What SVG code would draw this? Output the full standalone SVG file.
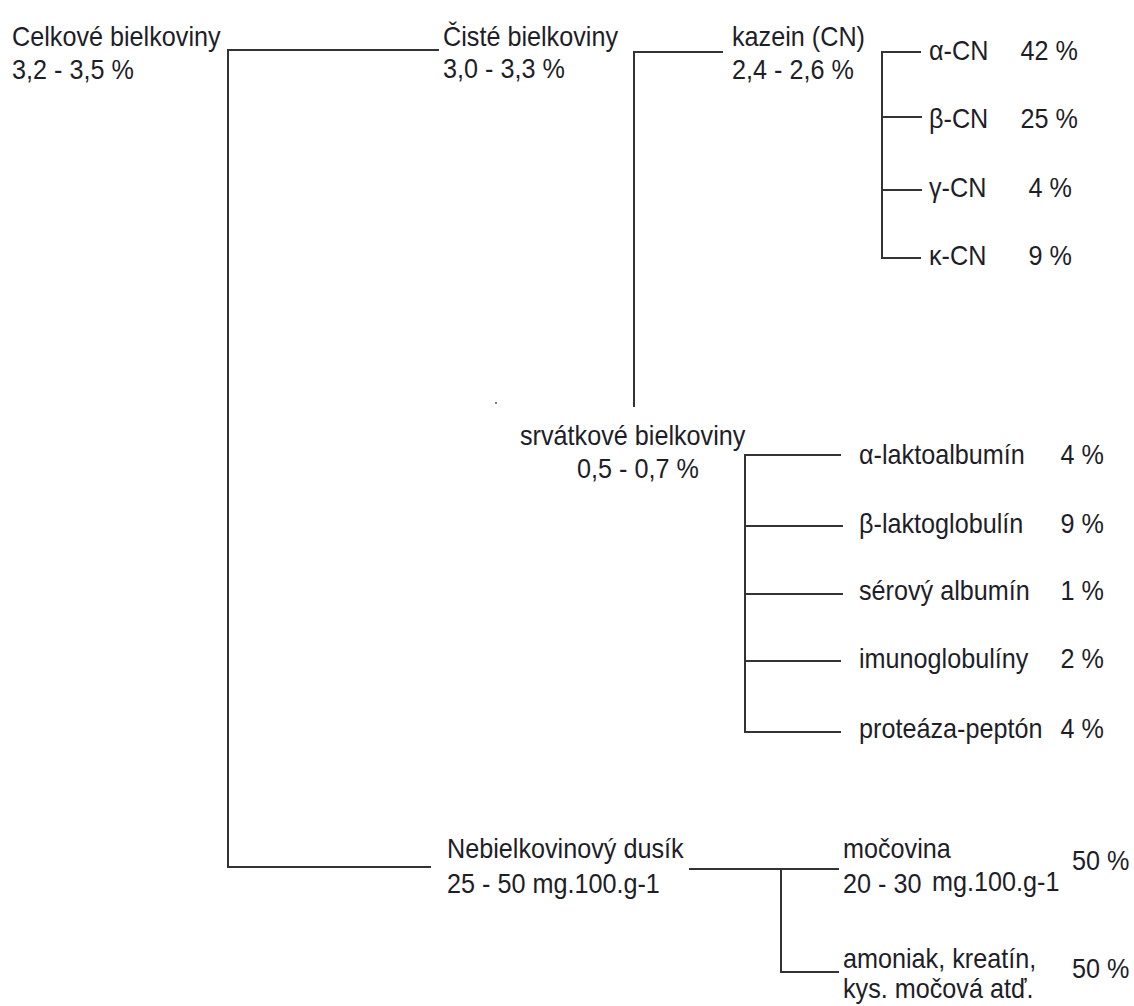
<svg xmlns="http://www.w3.org/2000/svg" width="1134" height="1006" viewBox="0 0 1134 1006">
  <style>
    text { font-family: "Liberation Sans", Arial, sans-serif; font-size: 28px; fill: #1e1e28; }
    .end { text-anchor: end; }
    .wire { fill: none; stroke: #333; stroke-width: 2; stroke-linecap: square; }
  </style>
  <rect width="1134" height="1006" fill="#ffffff"/>

  <!-- tree connectors -->
  <g id="connectors" class="wire">
    <!-- total proteins -> pure proteins / non-protein nitrogen -->
    <path class="wire" d="M228 50 H438 M228 50 V867 H430"/>
    <!-- pure proteins -> casein, whey -->
    <path class="wire" d="M634 52 H722 M634 52 V406"/>
    <!-- casein fractions -->
    <path class="wire" d="M882 52 V258 M882 52 H920 M882 117 H921 M882 190 H921 M882 258 H920"/>
    <!-- whey fractions -->
    <path class="wire" d="M745 455 V732 M745 455 H840 M745 526 H842 M745 594 H842 M745 661 H840 M745 732 H840"/>
    <!-- non-protein nitrogen -->
    <path class="wire" d="M690 869 H838 M781 869 V972 H838"/>
  </g>
  <circle cx="496" cy="403" r="1" fill="#555"/>

  <g id="celkove">
    <text transform="translate(12 46) scale(.9 1)">Celkové bielkoviny</text>
    <text transform="translate(12 79) scale(.9 1)">3,2 - 3,5 %</text>
  </g>
  <g id="ciste">
    <text transform="translate(443 46) scale(.9 1)">Čisté bielkoviny</text>
    <text transform="translate(443 78) scale(.9 1)">3,0 - 3,3 %</text>
  </g>
  <g id="kazein">
    <text transform="translate(732 46) scale(.9 1)">kazein (CN)</text>
    <text transform="translate(732 79) scale(.9 1)">2,4 - 2,6 %</text>
  </g>

  <g id="alpha-cn">
    <text transform="translate(929 60) scale(.9 1)">α-CN</text>
    <text class="end" transform="translate(1078 60) scale(.9 1)">42 %</text>
  </g>
  <g id="beta-cn">
    <text transform="translate(929 128) scale(.9 1)">β-CN</text>
    <text class="end" transform="translate(1078 128) scale(.9 1)">25 %</text>
  </g>
  <g id="gamma-cn">
    <text transform="translate(929 197) scale(.9 1)">γ-CN</text>
    <text class="end" transform="translate(1072 197) scale(.9 1)">4 %</text>
  </g>
  <g id="kappa-cn">
    <text transform="translate(929 265) scale(.9 1)">κ-CN</text>
    <text class="end" transform="translate(1072 265) scale(.9 1)">9 %</text>
  </g>

  <g id="srvatkove">
    <text transform="translate(520 445) scale(.9 1)">srvátkové bielkoviny</text>
    <text transform="translate(577 478) scale(.9 1)">0,5 - 0,7 %</text>
  </g>

  <g id="laktoalbumin">
    <text transform="translate(859 464) scale(.9 1)">α-laktoalbumín</text>
    <text class="end" transform="translate(1104 464) scale(.9 1)">4 %</text>
  </g>
  <g id="laktoglobulin">
    <text transform="translate(859 533) scale(.9 1)">β-laktoglobulín</text>
    <text class="end" transform="translate(1104 533) scale(.9 1)">9 %</text>
  </g>
  <g id="serovy-albumin">
    <text transform="translate(859 600) scale(.9 1)">sérový albumín</text>
    <text class="end" transform="translate(1104 600) scale(.9 1)">1 %</text>
  </g>
  <g id="imunoglobuliny">
    <text transform="translate(859 668) scale(.9 1)">imunoglobulíny</text>
    <text class="end" transform="translate(1104 668) scale(.9 1)">2 %</text>
  </g>
  <g id="proteaza-pepton">
    <text transform="translate(859 738) scale(.9 1)">proteáza-peptón</text>
    <text class="end" transform="translate(1104 738) scale(.9 1)">4 %</text>
  </g>

  <g id="nebielkovinovy">
    <text transform="translate(447 858) scale(.9 1)">Nebielkovinový dusík</text>
    <text transform="translate(447 893) scale(.9 1)">25 - 50 mg.100.g-1</text>
  </g>
  <g id="mocovina">
    <text transform="translate(843 858) scale(.9 1)">močovina</text>
    <text transform="translate(843 893) scale(.9 1)">20 - 30</text>
    <text transform="translate(932 891) scale(.9 1)">mg.100.g-1</text>
    <text transform="translate(1072 870) scale(.9 1)">50 %</text>
  </g>
  <g id="amoniak">
    <text transform="translate(843 968) scale(.9 1)">amoniak, kreatín,</text>
    <text transform="translate(843 998) scale(.9 1)">kys. močová atď.</text>
    <text transform="translate(1072 978) scale(.9 1)">50 %</text>
  </g>
</svg>
